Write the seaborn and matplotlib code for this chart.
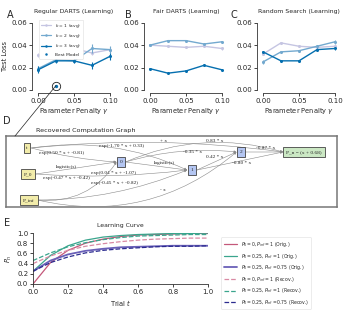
import numpy as np
import pandas as pd
import seaborn as sns
import matplotlib.pyplot as plt
from matplotlib.lines import Line2D
from matplotlib.patches import ConnectionPatch

# Data
gammas = [0.0, 0.025, 0.05, 0.075, 0.1]
k_labels = ['$k$ = 1 (avg)', '$k$ = 2 (avg)', '$k$ = 3 (avg)']

reg_k1 = [0.031, 0.030, 0.037, 0.033, 0.036]
reg_k2 = [0.019, 0.027, 0.026, 0.037, 0.036]
reg_k3 = [0.018, 0.026, 0.026, 0.022, 0.030]
reg_err = [[0.002, 0.001, 0.001, 0.002, 0.002],
           [0.002, 0.002, 0.002, 0.004, 0.003],
           [0.003, 0.002, 0.002, 0.003, 0.003]]
best_gamma, best_loss = 0.025, 0.004

fair_k1 = [0.040, 0.039, 0.038, 0.039, 0.037]
fair_k2 = [0.040, 0.044, 0.044, 0.041, 0.043]
fair_k3 = [0.019, 0.015, 0.017, 0.022, 0.018]
fair_err = [[0.001, 0.001, 0.001, 0.001, 0.001],
            [0.001, 0.001, 0.001, 0.001, 0.001],
            [0.001, 0.001, 0.001, 0.001, 0.001]]

rand_k1 = [0.032, 0.042, 0.039, 0.038, 0.039]
rand_k2 = [0.025, 0.034, 0.035, 0.039, 0.043]
rand_k3 = [0.034, 0.026, 0.026, 0.036, 0.037]
rand_err = [[0.001, 0.001, 0.001, 0.001, 0.001],
            [0.002, 0.001, 0.001, 0.001, 0.002],
            [0.001, 0.001, 0.001, 0.001, 0.001]]

# computation graph
nodes = ['t', 'P_0', 'P_inf', '0', '1', '2', 'P_n = (x + 0.68)']
node_kind = ['input', 'input', 'input', 'hidden', 'hidden', 'hidden', 'output']
edges = [('t', '0', 'exp(0.50 * x + -0.81)'),
         ('t', '1', 'exp(-1.70 * x + 0.33)'),
         ('t', 'P_n = (x + 0.68)', '+ x'),
         ('P_0', '0', 'logistic(s)'),
         ('P_0', '1', 'exp(0.04 * x + -1.07)'),
         ('P_inf', '0', 'exp(-0.47 * x + -0.42)'),
         ('P_inf', '1', 'exp(-0.45 * x + -0.82)'),
         ('P_inf', '2', '- x'),
         ('0', '1', 'logistic(s)'),
         ('0', '2', '-0.35 * x'),
         ('1', '2', '0.42 * x'),
         ('0', 'P_n = (x + 0.68)', '0.83 * x'),
         ('2', 'P_n = (x + 0.68)', '-0.87 * x'),
         ('1', 'P_n = (x + 0.68)', '-0.80 * x')]

# learning curves
trial = [0.0, 0.1, 0.2, 0.3, 0.4, 0.5, 0.6, 0.7, 0.8, 0.9, 1.0]
orig_a = [0.00, 0.42, 0.66, 0.80, 0.88, 0.93, 0.96, 0.97, 0.98, 0.99, 0.99]
orig_b = [0.25, 0.56, 0.75, 0.86, 0.92, 0.95, 0.97, 0.98, 0.99, 0.99, 1.00]
orig_c = [0.25, 0.46, 0.58, 0.65, 0.69, 0.72, 0.73, 0.74, 0.75, 0.75, 0.75]
recov_a = [0.40, 0.55, 0.66, 0.74, 0.79, 0.83, 0.86, 0.88, 0.89, 0.90, 0.90]
recov_b = [0.46, 0.61, 0.73, 0.81, 0.87, 0.91, 0.94, 0.95, 0.96, 0.97, 0.97]
recov_c = [0.25, 0.42, 0.53, 0.61, 0.66, 0.69, 0.71, 0.73, 0.74, 0.74, 0.75]
curve_labels = [r'$P_0 = 0, P_{inf} = 1$ (Orig.)',
                r'$P_0 = 0.25, P_{inf} = 1$ (Orig.)',
                r'$P_0 = 0.25, P_{inf} = 0.75$ (Orig.)',
                r'$P_0 = 0, P_{inf} = 1$ (Recov.)',
                r'$P_0 = 0.25, P_{inf} = 1$ (Recov.)',
                r'$P_0 = 0.25, P_{inf} = 0.75$ (Recov.)']

sns.set_theme(style='ticks', rc={
    'axes.linewidth': 0.6, 'axes.edgecolor': '#333333',
    'xtick.major.width': 0.6, 'ytick.major.width': 0.6,
    'xtick.major.size': 2, 'ytick.major.size': 2,
    'xtick.labelsize': 5, 'ytick.labelsize': 5,
    'axes.labelsize': 4.8, 'axes.titlesize': 4.4,
    'xtick.major.pad': 1.5, 'ytick.major.pad': 1.5,
    'axes.labelpad': 2, 'axes.titlepad': 7})
plt.rcParams['font.family'] = ['DejaVu Sans']

W, H = 346, 312
fig = plt.figure(figsize=(W / 100, H / 100), dpi=100)


def px_axes(left, top, right, bottom):
    return fig.add_axes([left / W, 1 - bottom / H, (right - left) / W, (bottom - top) / H])


def letter(x, y, s):
    fig.text(x / W, 1 - y / H, s, fontsize=7, ha='center', va='center')


k_colors = sns.color_palette('PuBu', 3)
k_colors[0] = '#c5c5e2'


def loss_panel(ax, series, errs, title, ylabel):
    for vals, err, col in zip(series, errs, k_colors):
        sns.lineplot(x=gammas, y=vals, ax=ax, color=col, marker='o', markersize=2.2,
                     markeredgewidth=0, lw=1.0, legend=False)
        ax.errorbar(gammas, vals, yerr=err, fmt='none', ecolor=col, elinewidth=0.8, capsize=0)
    ax.set_xlim(-0.005, 0.105)
    ax.set_ylim(0, 0.06)
    ax.set_xticks([0, 0.05, 0.1])
    ax.set_xticklabels(['0.00', '0.05', '0.10'])
    ax.set_yticks([0, 0.02, 0.04, 0.06])
    ax.set_yticklabels(['0.00', '0.02', '0.04', '0.06'])
    ax.set_title(title)
    ax.set_xlabel(r'Parameter Penalty $\gamma$')
    ax.set_ylabel(ylabel)
    sns.despine(ax=ax, offset=2, trim=True)


ax_a = px_axes(34.4, 22.7, 113.6, 90)
ax_b = px_axes(146.4, 22.7, 225.6, 90)
ax_c = px_axes(259.4, 22.7, 338.6, 90)

loss_panel(ax_a, [reg_k1, reg_k2, reg_k3], reg_err, 'Regular DARTS (Learning)', 'Test Loss')
loss_panel(ax_b, [fair_k1, fair_k2, fair_k3], fair_err, 'Fair DARTS (Learning)', '')
loss_panel(ax_c, [rand_k1, rand_k2, rand_k3], rand_err, 'Random Search (Learning)', '')
letter(10, 15, 'A')
letter(128, 15, 'B')
letter(234, 15, 'C')

ax_a.plot(best_gamma, best_loss, 'o', color=k_colors[2], ms=2.4, mew=0, zorder=5)
ax_a.plot(best_gamma, best_loss, 'o', mfc='none', mec='#222222', ms=6, mew=0.6, zorder=5)

handles = [Line2D([], [], color=c, marker='o', ms=1.8, lw=0.9, mew=0) for c in k_colors]
handles.append(Line2D([], [], color=k_colors[2], marker='o', ms=1.8, lw=0, mew=0))
ax_a.legend(handles, k_labels + ['Best Model'], loc='upper left', bbox_to_anchor=(0.03, 1.08),
            fontsize=3.2, frameon=True, handlelength=2.2, borderpad=0.5, labelspacing=0.5,
            edgecolor='#dddddd', framealpha=1).get_frame().set_linewidth(0.4)

# Panel D: computation graph
node_xy = {'t': (27, 148), 'P_0': (28, 174), 'P_inf': (29, 200), '0': (121, 162),
           '1': (192, 170), '2': (241, 152), 'P_n = (x + 0.68)': (304, 152)}
node_hw = {'t': 4.5, 'P_0': 8, 'P_inf': 8.5, '0': 4.5, '1': 5, '2': 4.5,
           'P_n = (x + 0.68)': 21}
kind_color = {'input': '#f2ecaa', 'hidden': '#b4c6f2', 'output': '#cbe8c4'}
label_xy = [(62, 153), (122, 146), (163, 141), (66, 167), (114, 173), (66, 178),
            (114, 183), (163, 190), (164, 163), (192, 152), (215, 157), (215, 141),
            (266, 148), (242, 163)]
edge_rad = [0.05, -0.15, -0.06, 0.0, 0.05, 0.3, 0.1, 0.25, 0.0, -0.1, 0.0, -0.18, 0.0, 0.0]

ax_d = px_axes(6, 136, 337, 207)
ax_d.set_xlim(6, 337)
ax_d.set_ylim(207, 136)
ax_d.set_xticks([])
ax_d.set_yticks([])
for s in ax_d.spines.values():
    s.set_color('#777777')
    s.set_linewidth(1.1)
ax_d.set_title('Recovered Computation Graph', fontsize=4.6, pad=3, x=0.24)
letter(7, 121, 'D')

for (src, dst, lab), (lx, ly), rad in zip(edges, label_xy, edge_rad):
    sx, sy = node_xy[src]
    tx, ty = node_xy[dst]
    ax_d.annotate('', xy=(tx - node_hw[dst], ty), xytext=(sx + node_hw[src], sy),
                  arrowprops=dict(arrowstyle='-|>', color='#8a8a8a', lw=0.4,
                                  mutation_scale=3.5, shrinkA=0, shrinkB=0,
                                  connectionstyle=f'arc3,rad={rad}'))
    ax_d.text(lx, ly, lab, fontsize=3.8, family='Liberation Serif', ha='center', va='center',
              color='#222222')

for name, kind in zip(nodes, node_kind):
    x, y = node_xy[name]
    ax_d.text(x, y, name, fontsize=3.9, family='Liberation Serif', ha='center', va='center',
              zorder=5, bbox=dict(boxstyle='square,pad=0.5', fc=kind_color[kind],
                                  ec='#444444', lw=0.6))

con = ConnectionPatch(xyA=(best_gamma, best_loss), coordsA=ax_a.transData,
                      xyB=(15, 136), coordsB=ax_d.transData, color='#222222', lw=0.5)
fig.add_artist(con)

# Panel E: learning curves
ax_e = px_axes(33, 233, 208, 284)
curves = [orig_a, orig_b, orig_c, recov_a, recov_b, recov_c]
curve_colors = ['#c4587a', '#3aa58d', '#6a60b8', '#d98aa4', '#3aa58d', '#2b2b8f']
curve_styles = ['-', '-', '-', '--', '--', '--']
curve_widths = [0.9, 0.9, 1.3, 0.9, 0.9, 0.9]
for vals, col, ls, lw in zip(curves, curve_colors, curve_styles, curve_widths):
    sns.lineplot(x=trial, y=vals, ax=ax_e, color=col, linestyle=ls, lw=lw, legend=False)
ax_e.set_xlim(0, 1)
ax_e.set_ylim(0, 1)
ax_e.set_xticks([0, 0.2, 0.4, 0.6, 0.8, 1.0])
ax_e.set_yticks([0, 0.2, 0.4, 0.6, 0.8, 1.0])
ax_e.set_title('Learning Curve', pad=4)
ax_e.set_xlabel('Trial $t$')
ax_e.set_ylabel('$P_n$')
sns.despine(ax=ax_e)
letter(7, 223, 'E')

e_handles = [Line2D([], [], color=c, linestyle=ls, lw=lw)
             for c, ls, lw in zip(curve_colors, curve_styles, curve_widths)]
leg = fig.legend(e_handles, curve_labels, loc='upper left',
                 bbox_to_anchor=(219 / W, 1 - 235 / H), fontsize=3.3, handlelength=2.8,
                 labelspacing=0.55, borderpad=0.6, handletextpad=0.8, frameon=True,
                 edgecolor='#dddddd', framealpha=1)
leg.get_frame().set_linewidth(0.4)

fig.savefig('out.png', dpi=100)
